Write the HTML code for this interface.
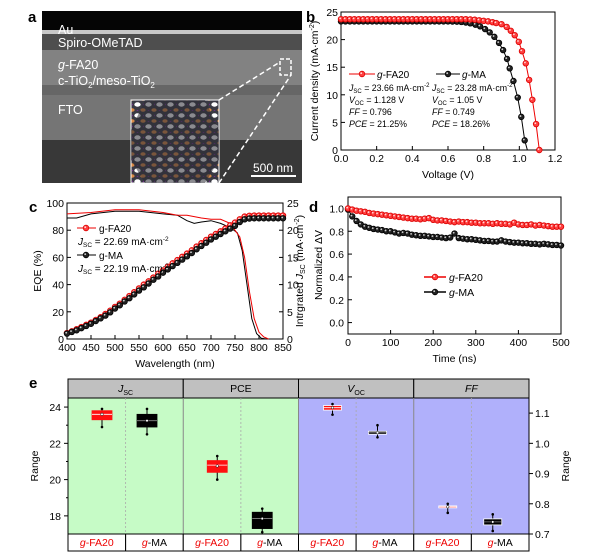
<!DOCTYPE html>
<html><head><meta charset="utf-8"><style>
body{margin:0;background:#fff}
svg{display:block;font-family:"Liberation Sans",Arial,sans-serif}
</style></head><body>
<svg id="fig" width="600" height="554" viewBox="0 0 600 554" xmlns="http://www.w3.org/2000/svg">
<defs>
<pattern id="lat" width="11" height="11" patternUnits="userSpaceOnUse">
<rect width="11" height="11" fill="#3a3a44"/>
<ellipse cx="5.5" cy="5.5" rx="3.2" ry="2.2" fill="#ffffff"/>
<ellipse cx="0" cy="0" rx="2.6" ry="1.8" fill="#d98a45"/><ellipse cx="11" cy="0" rx="2.6" ry="1.8" fill="#d98a45"/>
<ellipse cx="0" cy="11" rx="2.6" ry="1.8" fill="#d98a45"/><ellipse cx="11" cy="11" rx="2.6" ry="1.8" fill="#d98a45"/>
<circle cx="5.5" cy="0" r="0.9" fill="#7a2a9a"/><circle cx="0" cy="5.5" r="0.9" fill="#7a2a9a"/>
</pattern>
</defs>
<!-- panel a -->
<g>
<rect x="42" y="11" width="260" height="172" fill="#6e6e6e"/>
<rect x="42" y="11" width="260" height="19" fill="#050505"/>
<rect x="42" y="30" width="260" height="4" fill="#c8c8c8"/>
<rect x="42" y="34" width="260" height="16" fill="#4e4e4e"/>
<rect x="42" y="50" width="260" height="35" fill="#828282"/>
<rect x="42" y="85" width="260" height="10" fill="#666"/>
<rect x="42" y="95" width="260" height="45" fill="#757575"/>
<rect x="42" y="140" width="260" height="43" fill="#383838"/>
<rect x="131" y="100" width="88" height="83" fill="url(#lat)" stroke="#fff" stroke-width="1"/>
<polygon points="145,100 205,100 219,130 219,160 205,183 145,183 131,160 131,130" fill="#2c2c34" opacity="0.55"/>
<line x1="219" y1="100" x2="280" y2="62" stroke="#fff" stroke-width="1.5" stroke-dasharray="5,3"/>
<line x1="219" y1="183" x2="291" y2="75" stroke="#fff" stroke-width="1.5" stroke-dasharray="5,3"/>
<rect x="280" y="59" width="11" height="16" fill="none" stroke="#fff" stroke-width="1.5" stroke-dasharray="4,2"/>
<line x1="251" y1="176" x2="296" y2="176" stroke="#fff" stroke-width="2"/>
<text x="273" y="172" fill="#fff" font-size="12" text-anchor="middle">500 nm</text>
<g fill="#fff" font-size="12.5">
<text x="58" y="34">Au</text>
<text x="58" y="47">Spiro-OMeTAD</text>
<text x="58" y="69"><tspan font-style="italic">g</tspan>-FA20</text>
<text x="58" y="85">c-TiO<tspan font-size="8" dy="3">2</tspan><tspan dy="-3">/meso-TiO</tspan><tspan font-size="8" dy="3">2</tspan></text>
<text x="58" y="114">FTO</text>
</g>
</g>
<g font-weight="bold" font-size="15">
<text x="28" y="22">a</text>
<text x="306" y="22">b</text>
<text x="29" y="212">c</text>
<text x="309" y="212">d</text>
<text x="29" y="388">e</text>
</g>
<g id="gb"></g>
<g id="gc"></g>
<g id="gd"></g>
<g id="ge"></g>
</svg>
<script>
// ---- panel b data
const bFaV=[0,0.025,0.05,0.075,0.1,0.125,0.15,0.175,0.2,0.225,0.25,0.275,0.3,0.325,0.35,0.375,0.4,0.425,0.45,0.475,0.5,0.525,0.55,0.575,0.6,0.625,0.65,0.675,0.7,0.725,0.75,0.775,0.8,0.825,0.85,0.87,0.9,0.929,0.952,0.974,0.997,1.015,1.036,1.055,1.073,1.094,1.112];
const bFaJ=[23.7,23.7,23.7,23.7,23.7,23.7,23.7,23.7,23.7,23.7,23.7,23.7,23.7,23.7,23.7,23.7,23.7,23.7,23.7,23.7,23.7,23.7,23.7,23.7,23.7,23.7,23.7,23.7,23.7,23.65,23.6,23.5,23.4,23.3,23.15,23.0,22.8,22.3,21.6,20.8,19.6,17.9,15.7,12.7,9.1,4.7,0];
const bMaV=[0,0.025,0.05,0.075,0.1,0.125,0.15,0.175,0.2,0.225,0.25,0.275,0.3,0.325,0.35,0.375,0.4,0.425,0.45,0.475,0.5,0.525,0.55,0.575,0.6,0.625,0.65,0.675,0.7,0.725,0.754,0.78,0.808,0.834,0.86,0.886,0.909,0.931,0.946,0.967,0.991,1.011,1.03];
const bMaJ=[23.3,23.3,23.3,23.3,23.3,23.3,23.3,23.3,23.3,23.3,23.3,23.3,23.3,23.3,23.3,23.3,23.3,23.3,23.3,23.3,23.3,23.3,23.3,23.3,23.3,23.28,23.25,23.2,23.1,22.95,22.7,22.4,21.9,21.3,20.5,19.4,18.1,16.5,14.8,12.5,9.5,6.0,1.75];
const bXTicks=[0,0.2,0.4,0.6,0.8,1.0,1.2];
const bYTicks=[0,5,10,15,20,25];
// ---- panel c data
const cEqeFaX=[400,450,500,550,600,630,650,680,700,720,740,760,770,780,790,800,810,820];
const cEqeFaY=[92,93,95,95,93,91,91,89,88,88,85,75,60,35,15,5,1.5,0];
const cEqeMaX=[400,420,450,500,550,600,630,650,665,680,700,720,740,755,765,775,785,795,805,815];
const cEqeMaY=[89,89,92,94,94,92,91,87,85,86,87,85,82,78,65,40,15,4,0.5,0];
const cWl=[400,410,420,430,440,450,460,470,480,490,500,510,520,530,540,550,560,570,580,590,600,610,620,630,640,650,660,670,680,690,700,710,720,730,740,750,760,770,780,790,800,810,820,830,840,850];
const cJFa=[1.1,1.4,1.8,2.2,2.6,3.0,3.5,4.0,4.6,5.2,5.9,6.5,7.2,7.9,8.6,9.3,10.0,10.6,11.3,12.0,12.6,13.3,13.9,14.5,15.1,15.7,16.3,17.0,17.6,18.2,18.8,19.3,19.8,20.3,20.9,21.4,22.0,22.5,22.65,22.69,22.69,22.69,22.69,22.69,22.69,22.69];
const cJMa=[1.0,1.3,1.6,2.0,2.4,2.8,3.3,3.8,4.3,4.9,5.6,6.2,6.9,7.5,8.2,8.9,9.5,10.2,10.9,11.5,12.2,12.8,13.4,14.0,14.6,15.2,15.8,16.5,17.1,17.7,18.3,18.8,19.3,19.8,20.3,20.8,21.5,22.0,22.15,22.19,22.19,22.19,22.19,22.19,22.19,22.19];
const cXTicks=[400,450,500,550,600,650,700,750,800,850];
const cYTicks=[0,20,40,60,80,100];
const cY2Ticks=[0,5,10,15,20,25];
// ---- panel d data
const dT=[0,10,20,30,40,50,60,70,80,90,100,110,120,130,140,150,160,170,180,190,200,210,220,230,240,250,260,270,280,290,300,310,320,330,340,350,360,370,380,390,400,410,420,430,440,450,460,470,480,490,500];
const dFa=[1.0,0.99,0.98,0.975,0.97,0.96,0.955,0.95,0.945,0.94,0.935,0.93,0.925,0.92,0.915,0.91,0.91,0.905,0.91,0.915,0.9,0.895,0.895,0.89,0.885,0.88,0.885,0.88,0.88,0.875,0.875,0.87,0.87,0.87,0.865,0.87,0.865,0.865,0.86,0.875,0.86,0.855,0.855,0.86,0.85,0.855,0.85,0.845,0.84,0.84,0.84];
const dMa=[0.99,0.93,0.89,0.86,0.84,0.83,0.82,0.815,0.81,0.8,0.8,0.79,0.78,0.785,0.78,0.77,0.765,0.76,0.76,0.755,0.75,0.75,0.745,0.74,0.745,0.78,0.74,0.735,0.73,0.73,0.725,0.72,0.715,0.715,0.71,0.71,0.72,0.71,0.705,0.7,0.7,0.695,0.695,0.69,0.69,0.685,0.69,0.685,0.68,0.68,0.675];
const dXTicks=[0,100,200,300,400,500];
const dYTicks=[0,0.2,0.4,0.6,0.8,1.0];
// ---- panel e data: [whiskerLow, boxLow, median, boxHigh, whiskerHigh, mean]
const eCategories=["Jsc","PCE","Voc","FF"];
const eJscFa=[22.9,23.3,23.6,23.8,23.9,23.6];
const eJscMa=[22.5,22.9,23.25,23.6,23.9,23.25];
const ePceFa=[20.0,20.4,20.8,21.05,21.3,20.75];
const ePceMa=[17.1,17.3,17.85,18.2,18.4,17.85];
const eVocFa=[1.095,1.11,1.118,1.125,1.13,1.118];
const eVocMa=[1.02,1.03,1.035,1.04,1.06,1.035];
const eFfFa=[0.77,0.787,0.79,0.793,0.80,0.79];
const eFfMa=[0.71,0.73,0.74,0.75,0.765,0.74];
const eLeftTicks=[18,20,22,24];
const eRightTicks=[0.7,0.8,0.9,1.0,1.1];

const NS="http://www.w3.org/2000/svg";
function mk(parent,tag,attrs,text){const e=document.createElementNS(NS,tag);for(const k in attrs)e.setAttribute(k,attrs[k]);if(text!==undefined)e.textContent=text;parent.appendChild(e);return e;}
function lin(d0,d1,r0,r1){return v=>r0+(v-d0)/(d1-d0)*(r1-r0);}
function fmt(v,dec){return v.toFixed(dec);}
function pathD(xs,ys,sx,sy){return xs.map((x,i)=>(i?'L':'M')+sx(x).toFixed(1)+','+sy(ys[i]).toFixed(1)).join('');}

function marker(g,x,y,col,dark){
  const c=mk(g,'circle',{cx:x,cy:y,r:2.8,fill:col,stroke:dark,'stroke-width':0.8});
  
  
  mk(g,'circle',{cx:x-0.8,cy:y-0.8,r:0.9,fill:'#fff',opacity:0.8});
}
function axes(g,x0,x1,y0,y1){
  const r=mk(g,'rect',{x:x0,y:y0,width:x1-x0,height:y1-y0,fill:'none',stroke:'#000','stroke-width':1});
  
  
}

// ===== panel b
(function(){
  const g=document.getElementById('gb');
  const X0=341,X1=555,Y0=12,Y1=150;
  const sx=lin(0,1.2,X0,X1), sy=lin(0,25,Y1,Y0);
  axes(g,X0,X1,Y0,Y1);
  bXTicks.forEach(t=>{const x=sx(t);mk(g,'line',{x1:x,x2:x,y1:Y1,y2:Y1-4,stroke:'#000'});
    const l=mk(g,'text',{x:x,y:Y1+12,'font-size':10.5,'text-anchor':'middle'},fmt(t,1));
    });
  bYTicks.forEach(t=>{const y=sy(t);mk(g,'line',{x1:X0,x2:X0+4,y1:y,y2:y,stroke:'#000'});
    const l=mk(g,'text',{x:X0-3,y:y+4,'font-size':10.5,'text-anchor':'end'},t);
    });
  const xl=mk(g,'text',{x:(X0+X1)/2,y:178,'font-size':10.5,'text-anchor':'middle'},'Voltage (V)');
  
  const yl=mk(g,'text',{transform:'translate(318,81) rotate(-90)','font-size':10.5,'text-anchor':'middle'});
  yl.innerHTML='Current density (mA·cm<tspan font-size="7" dy="-4">-2</tspan><tspan dy="4">)</tspan>';
  
  const lm=mk(g,'path',{d:pathD(bMaV,bMaJ,sx,sy)+'L'+sx(1.045)+','+sy(0),fill:'none',stroke:'#000','stroke-width':1});
  
  const lf=mk(g,'path',{d:pathD(bFaV,bFaJ,sx,sy),fill:'none',stroke:'#e00','stroke-width':1});
  
  bMaV.forEach((v,i)=>marker(g,sx(v),sy(bMaJ[i]),'#222','#000'));
  bFaV.forEach((v,i)=>marker(g,sx(v),sy(bFaJ[i]),'#ff4040','#d00'));
  // legend
  mk(g,'line',{x1:349,x2:375,y1:74,y2:74,stroke:'#e00'});marker(g,362,74,'#ff4040','#d00');
  const t1=mk(g,'text',{x:377,y:78,'font-size':10});t1.innerHTML='<tspan font-style="italic">g</tspan>-FA20';
  
  mk(g,'line',{x1:436,x2:460,y1:74,y2:74,stroke:'#000'});marker(g,448,74,'#222','#000');
  const t2=mk(g,'text',{x:462,y:78,'font-size':10});t2.innerHTML='<tspan font-style="italic">g</tspan>-MA';
  
  const rows=[['<tspan font-style="italic">J</tspan><tspan font-size="6" dy="2">SC</tspan><tspan dy="-2"> = 23.66 mA·cm</tspan><tspan font-size="6" dy="-4">-2</tspan>','<tspan font-style="italic">J</tspan><tspan font-size="6" dy="2">SC</tspan><tspan dy="-2"> = 23.28 mA·cm</tspan><tspan font-size="6" dy="-4">-2</tspan>'],
   ['<tspan font-style="italic">V</tspan><tspan font-size="6" dy="2">OC</tspan><tspan dy="-2"> = 1.128 V</tspan>','<tspan font-style="italic">V</tspan><tspan font-size="6" dy="2">OC</tspan><tspan dy="-2"> = 1.05 V</tspan>'],
   ['<tspan font-style="italic">FF</tspan> = 0.796','<tspan font-style="italic">FF</tspan> = 0.749'],
   ['<tspan font-style="italic">PCE</tspan> = 21.25%','<tspan font-style="italic">PCE</tspan> = 18.26%']];
  rows.forEach((r,i)=>{const y=91+i*12;
    const a=mk(g,'text',{x:349,y:y,'font-size':8.8});a.innerHTML=r[0];
    const b=mk(g,'text',{x:432,y:y,'font-size':8.8});b.innerHTML=r[1];});
})();

// ===== panel c
(function(){
  const g=document.getElementById('gc');
  const X0=67,X1=283,Y0=203,Y1=339;
  const sx=lin(400,850,X0,X1), sy=lin(0,100,Y1,Y0), sy2=lin(0,25,Y1,Y0);
  axes(g,X0,X1,Y0,Y1);
  cXTicks.forEach(t=>{const x=sx(t);mk(g,'line',{x1:x,x2:x,y1:Y1,y2:Y1-4,stroke:'#000'});
    const l=mk(g,'text',{x:x,y:Y1+12,'font-size':10.5,'text-anchor':'middle'},t);
    });
  cYTicks.forEach(t=>{const y=sy(t);mk(g,'line',{x1:X0,x2:X0+4,y1:y,y2:y,stroke:'#000'});
    const l=mk(g,'text',{x:X0-3,y:y+4,'font-size':10.5,'text-anchor':'end'},t);
    });
  cY2Ticks.forEach(t=>{const y=sy2(t);mk(g,'line',{x1:X1,x2:X1-4,y1:y,y2:y,stroke:'#000'});
    const l=mk(g,'text',{x:X1+4,y:y+4,'font-size':10.5},t);
    });
  const xl=mk(g,'text',{x:(X0+X1)/2,y:367,'font-size':10.5,'text-anchor':'middle'},'Wavelength (nm)');
  
  const yl=mk(g,'text',{transform:'translate(41,271) rotate(-90)','font-size':10.5,'text-anchor':'middle'},'EQE (%)');
  
  const y2=mk(g,'text',{transform:'translate(303,271) rotate(-90)','font-size':10.5,'text-anchor':'middle'});
  y2.innerHTML='Intrgrated <tspan font-style="italic">J</tspan><tspan font-size="7" dy="2">SC</tspan><tspan dy="-2"> (mA·cm</tspan><tspan font-size="7" dy="-4">-2</tspan><tspan dy="4">)</tspan>';
  
  const em=mk(g,'path',{d:pathD(cEqeMaX,cEqeMaY,sx,sy),fill:'none',stroke:'#000','stroke-width':1});
  
  const ef=mk(g,'path',{d:pathD(cEqeFaX,cEqeFaY,sx,sy),fill:'none',stroke:'#e00','stroke-width':1});
  
  cWl.forEach((w,i)=>marker(g,sx(w),sy2(cJFa[i]),'#ff4040','#d00'));
  cWl.forEach((w,i)=>marker(g,sx(w),sy2(cJMa[i]),'#222','#000'));
  mk(g,'line',{x1:77,x2:96,y1:228,y2:228,stroke:'#e00'});marker(g,86,228,'#ff4040','#d00');
  let t=mk(g,'text',{x:99,y:232,'font-size':10},'g-FA20');
  t=mk(g,'text',{x:78,y:245,'font-size':10});t.innerHTML='<tspan font-style="italic">J</tspan><tspan font-size="6.5" dy="2">SC</tspan><tspan dy="-2"> = 22.69 mA·cm</tspan><tspan font-size="6.5" dy="-4">-2</tspan>';
  
  mk(g,'line',{x1:77,x2:96,y1:255,y2:255,stroke:'#000'});marker(g,86,255,'#222','#000');
  t=mk(g,'text',{x:99,y:259,'font-size':10},'g-MA');
  t=mk(g,'text',{x:78,y:272,'font-size':10});t.innerHTML='<tspan font-style="italic">J</tspan><tspan font-size="6.5" dy="2">SC</tspan><tspan dy="-2"> = 22.19 mA·cm</tspan><tspan font-size="6.5" dy="-4">-2</tspan>';
  
})();

// ===== panel d
(function(){
  const g=document.getElementById('gd');
  const X0=348,X1=561,Y0=197,Y1=334;
  const sx=lin(0,500,X0,X1), sy=lin(-0.1,1.1,Y1,Y0);
  axes(g,X0,X1,Y0,Y1);
  dXTicks.forEach(t=>{const x=sx(t);mk(g,'line',{x1:x,x2:x,y1:Y1,y2:Y1-4,stroke:'#000'});
    const l=mk(g,'text',{x:x,y:Y1+12,'font-size':10.5,'text-anchor':'middle'},t);
    });
  dYTicks.forEach(t=>{const y=sy(t);mk(g,'line',{x1:X0,x2:X0+4,y1:y,y2:y,stroke:'#000'});
    const l=mk(g,'text',{x:X0-4,y:y+4,'font-size':10.5,'text-anchor':'end'},fmt(t,1));
    });
  const xl=mk(g,'text',{x:(X0+X1)/2,y:362,'font-size':10.5,'text-anchor':'middle'},'Time (ns)');
  
  const yl=mk(g,'text',{transform:'translate(322,265) rotate(-90)','font-size':10.5,'text-anchor':'middle'},'Normalized ΔV');
  
  const lm=mk(g,'path',{d:pathD(dT,dMa,sx,sy),fill:'none',stroke:'#000','stroke-width':1});
  
  const lf=mk(g,'path',{d:pathD(dT,dFa,sx,sy),fill:'none',stroke:'#e00','stroke-width':1});
  
  dT.forEach((v,i)=>marker(g,sx(v),sy(dMa[i]),'#222','#000'));
  dT.forEach((v,i)=>marker(g,sx(v),sy(dFa[i]),'#ff4040','#d00'));
  mk(g,'line',{x1:424,x2:446,y1:277,y2:277,stroke:'#e00','stroke-width':1.5});marker(g,435,277,'#ff4040','#d00');
  let t=mk(g,'text',{x:449,y:281,'font-size':10.5});t.innerHTML='<tspan font-style="italic">g</tspan>-FA20';
  
  mk(g,'line',{x1:424,x2:446,y1:292,y2:292,stroke:'#000','stroke-width':1.5});marker(g,435,292,'#222','#000');
  t=mk(g,'text',{x:449,y:296,'font-size':10.5});t.innerHTML='<tspan font-style="italic">g</tspan>-MA';
  
})();

// ===== panel e
(function(){
  const g=document.getElementById('ge');
  const X0=68,X1=529,HY=379,Y0=398,Y1=534,BY=551;
  const cw=(X1-X0)/4;
  const syL=lin(17.0,24.5,Y1,Y0), syR=lin(0.7,1.15,Y1,Y0);
  const bgs=['#c6fbc6','#c6fbc6','#b0b0fb','#b0b0fb'];
  const heads=['<tspan font-style="italic">J</tspan><tspan font-size="7" dy="3">SC</tspan>','PCE','<tspan font-style="italic">V</tspan><tspan font-size="7" dy="3">OC</tspan>','<tspan font-style="italic">FF</tspan>'];
  const sets=[[eJscFa,eJscMa,syL],[ePceFa,ePceMa,syL],[eVocFa,eVocMa,syR],[eFfFa,eFfMa,syR]];
  eCategories.forEach((c,i)=>{
    const x=X0+i*cw;
    const bg=mk(g,'rect',{x:x,y:Y0,width:cw,height:Y1-Y0,fill:bgs[i]});
    
    const hr=mk(g,'rect',{x:x,y:HY,width:cw,height:Y0-HY,fill:'#c0c0c0',stroke:'#000','stroke-width':1});
    
    const ht=mk(g,'text',{x:x+cw/2,y:392,'font-size':10.5,'text-anchor':'middle'});ht.innerHTML=heads[i];
    
    mk(g,'line',{x1:x+cw/2,x2:x+cw/2,y1:Y0,y2:Y1,stroke:'#aaa','stroke-dasharray':'2,2','stroke-width':0.8});
    if(i>0)mk(g,'line',{x1:x,x2:x,y1:Y0,y2:Y1,stroke:'#888','stroke-width':1});
    ['g-FA20','g-MA'].forEach((n,j)=>{
      const bx=mk(g,'rect',{x:x+j*cw/2,y:Y1,width:cw/2,height:BY-Y1,fill:'#fff',stroke:'#000','stroke-width':1});
      
      const tt=mk(g,'text',{x:x+j*cw/2+cw/4,y:546,'font-size':10.5,'text-anchor':'middle',fill:j===0?'#e00':'#000'});
      tt.innerHTML='<tspan font-style="italic" fill="#e00">g</tspan>-'+n.slice(2);
      
    });
    const [fa,ma,sy]=sets[i];
    [[fa,34,'#ff1010','#fff'],[ma,79,'#000','#888']].forEach(([d,off,col,med])=>{
      const cx=x+off, w=i>=2?18:20;
      mk(g,'line',{x1:cx,x2:cx,y1:sy(d[0]),y2:sy(d[4]),stroke:'#000','stroke-width':1});
      const b=mk(g,'rect',{x:cx-w/2,y:sy(d[3]),width:w,height:Math.max(2,sy(d[1])-sy(d[3])),fill:col,stroke:i>=2?'#fff':col,'stroke-width':0.8});
      
      mk(g,'line',{x1:cx-w/2,x2:cx+w/2,y1:sy(d[2]),y2:sy(d[2]),stroke:med,'stroke-width':0.8});
      mk(g,'circle',{cx:cx,cy:sy(d[5]),r:1.3,fill:'#fff',stroke:'#000','stroke-width':0.5});
      mk(g,'circle',{cx:cx,cy:sy(d[0]),r:1.3,fill:'#000'});
      mk(g,'circle',{cx:cx,cy:sy(d[4]),r:1.3,fill:'#000'});
    });
  });
  mk(g,'rect',{x:X0,y:HY,width:X1-X0,height:BY-HY,fill:'none',stroke:'#000','stroke-width':1});
  eLeftTicks.forEach(t=>{const y=syL(t);mk(g,'line',{x1:X0,x2:X0-4,y1:y,y2:y,stroke:'#000'});
    const l=mk(g,'text',{x:X0-7,y:y+4,'font-size':10.5,'text-anchor':'end'},t);
    });
  [19,21,23].forEach(t=>mk(g,'line',{x1:X0,x2:X0-2,y1:syL(t),y2:syL(t),stroke:'#000'}));
  eRightTicks.forEach(t=>{const y=syR(t);mk(g,'line',{x1:X1,x2:X1+4,y1:y,y2:y,stroke:'#000'});
    const l=mk(g,'text',{x:X1+6,y:y+4,'font-size':10.5},fmt(t,1));
    });
  const yl=mk(g,'text',{transform:'translate(38,466) rotate(-90)','font-size':10.5,'text-anchor':'middle'},'Range');
  
  const yr=mk(g,'text',{transform:'translate(569,466) rotate(-90)','font-size':10.5,'text-anchor':'middle'},'Range');
  
})();
</script>
</body></html>
